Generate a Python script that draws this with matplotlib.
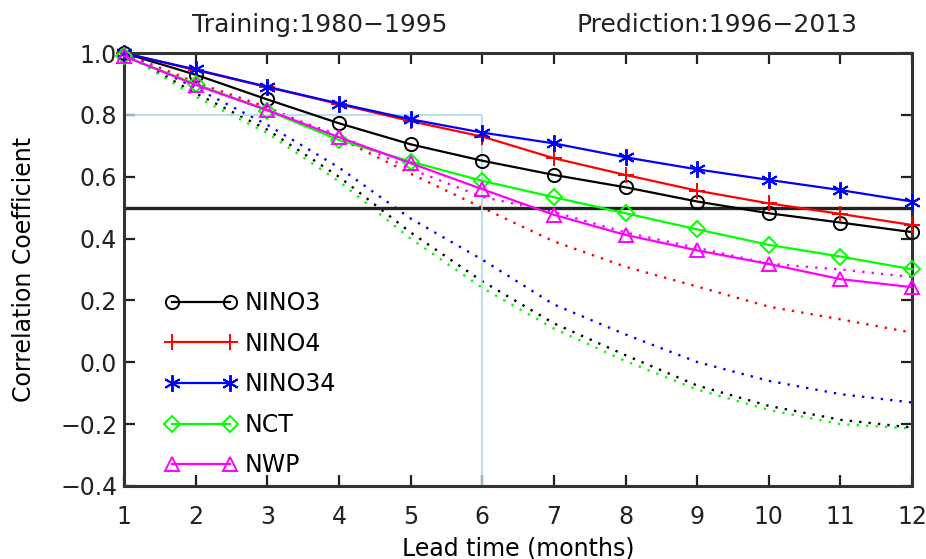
import matplotlib
matplotlib.use("Agg")
import matplotlib.pyplot as plt

# lead time in months
lead = [1, 2, 3, 4, 5, 6, 7, 8, 9, 10, 11, 12]

# model skill (solid lines with markers)
nino3 = [1.00, 0.93, 0.85, 0.773, 0.705, 0.652, 0.606, 0.566, 0.52, 0.482, 0.452, 0.421]
nino4 = [1.00, 0.945, 0.89, 0.835, 0.78, 0.73, 0.66, 0.606, 0.555, 0.514, 0.48, 0.444]
nino34 = [1.00, 0.947, 0.891, 0.837, 0.786, 0.743, 0.708, 0.663, 0.624, 0.59, 0.557, 0.52]
nct = [0.99, 0.90, 0.814, 0.719, 0.649, 0.587, 0.534, 0.482, 0.43, 0.38, 0.342, 0.301]
nwp = [0.99, 0.897, 0.816, 0.728, 0.644, 0.56, 0.477, 0.412, 0.362, 0.318, 0.269, 0.243]

# reference skill (dotted lines)
nino3_ref = [1.00, 0.87, 0.752, 0.60, 0.42, 0.262, 0.126, 0.023, -0.075, -0.141, -0.186, -0.211]
nino4_ref = [1.00, 0.905, 0.825, 0.725, 0.61, 0.50, 0.391, 0.309, 0.245, 0.18, 0.139, 0.096]
nino34_ref = [1.00, 0.887, 0.768, 0.63, 0.465, 0.332, 0.187, 0.09, 0.001, -0.06, -0.103, -0.13]
nct_ref = [1.00, 0.859, 0.741, 0.585, 0.40, 0.241, 0.109, 0.004, -0.088, -0.154, -0.20, -0.214]
nwp_ref = [1.00, 0.895, 0.816, 0.735, 0.625, 0.535, 0.486, 0.42, 0.37, 0.319, 0.30, 0.276]

names = ["NINO3", "NINO4", "NINO34", "NCT", "NWP"]
colors = ["black", "#ff0000", "#0000ff", "#00ff00", "#ff00ff"]
markers = ["o", "+", (6, 2, 0), "D", "^"]
msizes = [9.5, 12, 12, 8, 10]

plt.rcParams["font.family"] = ["DejaVu Sans"]
fig = plt.figure(figsize=(9.26, 5.59), dpi=100)
ax = fig.add_axes([0.134, 0.1306, 0.851, 0.7744])

# dotted reference curves
for ref, c in zip([nino3_ref, nino4_ref, nino34_ref, nct_ref, nwp_ref], colors):
    ax.plot(lead, ref, color=c, lw=1.7, ls=(0, (1, 3.0)))

# 0.5 threshold and the 6-month guide
ax.axhline(0.5, color="#222222", lw=2.4, zorder=2)
ax.plot([1, 6, 6], [0.8, 0.8, -0.4], color="#a8dce4", lw=1.2, zorder=2)

# solid model curves
for vals, name, c, m, ms in zip([nino3, nino4, nino34, nct, nwp], names, colors, markers, msizes):
    ax.plot(lead, vals, color=c, lw=1.6, marker=m, ms=ms, mfc="none",
            mec=c, mew=1.4, label=name, zorder=3, clip_on=False)

ax.set_xlim(1, 12)
ax.set_ylim(-0.4, 1.0)
ax.set_xticks(lead)
ax.set_yticks([-0.4, -0.2, 0.0, 0.2, 0.4, 0.6, 0.8, 1.0])
ax.set_yticklabels(["\u22120.4", "\u22120.2", "0.0", "0.2", "0.4", "0.6", "0.8", "1.0"])
ax.tick_params(direction="in", length=8, width=1.6, top=True, right=True,
               labelsize=17, colors="#222222")
ax.tick_params(axis="x", pad=14)
ax.tick_params(axis="y", pad=5)
for s in ax.spines.values():
    s.set_linewidth(2.2)
    s.set_color("#333333")

ax.set_xlabel("Lead time (months)", fontsize=17, labelpad=5)
ax.set_ylabel("Correlation Coefficient", fontsize=17, labelpad=17)

fig.text(0.345, 0.943, "Training:1980\u22121995", fontsize=18, ha="center", va="baseline",
         color="#222222")
fig.text(0.774, 0.943, "Prediction:1996\u22122013", fontsize=18, ha="center", va="baseline",
         color="#222222")

ax.legend(loc="lower left", bbox_to_anchor=(0.052, 0.02), frameon=False,
          numpoints=2, handlelength=3.05, handletextpad=0.34, labelspacing=0.70,
          fontsize=17, borderaxespad=0, borderpad=0)

fig.savefig("out.png", dpi=100)
